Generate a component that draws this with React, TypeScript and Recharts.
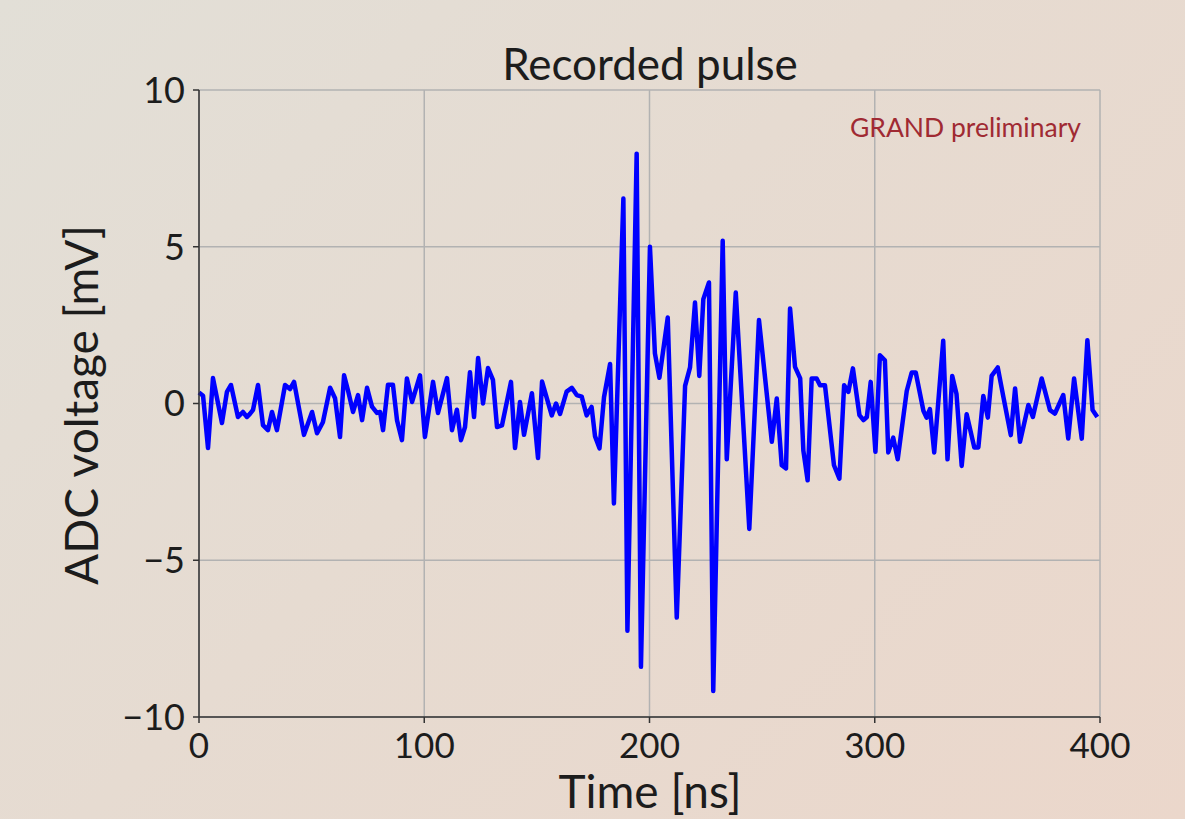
import { LineChart, Line, XAxis, YAxis, CartesianGrid } from "recharts";

// pulse trace (time in ns, ADC voltage in mV)
const timeNs = [
  0, 1.8, 4.0, 6.2, 10.2, 12.4, 14.2, 17.3, 19.5, 21.3, 22.6, 24.0, 26.2, 28.4, 30.6, 32.4, 34.6, 38.2, 40.4, 42.2, 46.6, 50.2,
  52.4, 55.0, 58.2, 60.4, 62.6, 64.4, 66.1, 68.4, 70.6, 72.4, 74.6, 76.8, 79.0, 80.4, 81.7, 83.9, 86.1, 87.9, 90.1, 92.3, 94.6, 98.1, 100.3,
  103.9, 106.1, 110.1, 112.3, 114.5, 116.3, 118.1, 120.3, 122.1, 123.9, 126.1, 128.3, 130.5, 132.3, 134.5, 138.5, 140.3, 142.5, 144.3, 147.8, 150.5, 152.3,
  156.6, 158.5, 160.3, 163.2, 165.5, 167.7, 169.9, 172.1, 174.3, 175.8, 177.8, 179.8, 182.5, 184.2, 188.4, 190.2, 194.3, 196.2, 200.2, 202.4, 204.4,
  208.1, 212.1, 215.8, 218.0, 220.2, 222.1, 223.9, 226.4, 228.3, 232.5, 234.3, 238.3, 244.3, 248.6, 254.3,
  256.5, 258.7, 260.6, 262.4, 264.6, 266.9, 268.3, 270.2, 272.0, 274.2, 275.7, 277.9, 281.9, 284.3, 286.4, 288.3, 290.3, 293.2, 295.0, 296.5, 298.2, 300.3, 302.3, 304.5,
  306.0, 308.2, 310.2, 314.2, 316.4, 318.2, 321.6, 323.0, 324.5, 326.4, 330.4, 332.3, 334.4, 336.3, 338.6, 340.8, 344.2, 346.0, 348.2, 350.2, 351.9, 354.6,
  357.1, 360.4, 362.3, 364.5, 368.2, 370.2, 374.1, 377.8, 380.0, 383.7, 385.9, 388.5, 391.9, 394.4, 396.7, 398.8,
];

const adcMv = [
  0.35, 0.25, -1.42, 0.81, -0.62, 0.37, 0.59, -0.43, -0.27, -0.43, -0.33, -0.2, 0.59, -0.69, -0.85, -0.27, -0.85, 0.59, 0.46, 0.69, -1.0, -0.27,
  -0.95, -0.6, 0.5, 0.17, -1.07, 0.9, 0.43, -0.27, 0.27, -0.53, 0.5, -0.1, -0.3, -0.27, -0.85, 0.6, 0.6, -0.53, -1.17, 0.8, 0.05, 0.9, -1.07,
  0.69, -0.3, 0.81, -0.85, -0.2, -1.17, -0.75, 1.0, -0.43, 1.45, 0.0, 1.13, 0.75, -0.75, -0.7, 0.69, -1.42, 0.05, -1.0, 0.33, -1.74, 0.7,
  -0.38, 0.0, -0.33, 0.38, 0.5, 0.27, 0.22, -0.38, -0.11, -1.04, -1.43, 0.2, 1.26, -3.19, 6.54, -7.25, 7.97, -8.4, 5.0, 1.6, 0.82,
  2.74, -6.83, 0.56, 1.15, 3.22, 0.88, 3.33, 3.86, -9.17, 5.19, -1.78, 3.54, -4.0, 2.66, -1.22,
  0.16, -1.97, -2.07, 3.03, 1.17, 0.8, -1.5, -2.45, 0.8, 0.8, 0.58, 0.58, -1.97, -2.4, 0.58, 0.37, 1.12, -0.37, -0.53, -0.43, 0.69, -1.54, 1.54, 1.38,
  -1.56, -1.09, -1.78, 0.4, 0.99, 0.99, -0.23, -0.45, -0.18, -1.56, 2.0, -1.78, 0.88, 0.3, -1.99, -0.34, -1.4, -1.4, 0.24, -0.45, 0.88, 1.15,
  0.21, -1.01, 0.48, -1.22, -0.05, -0.43, 0.8, -0.21, -0.32, 0.27, -1.12, 0.8, -1.12, 2.02, -0.21, -0.43,
];

const xTicks = [0, 100, 200, 300, 400];
const yTicks = [-10, -5, 0, 5, 10];

const W = 1185;
const H = 819;
const FONT = "Lato, 'Liberation Sans', sans-serif";
const INK = "#1c1c1c";

const fmtTick = (v: number) => (v < 0 ? `\u2212${Math.abs(v)}` : `${v}`);

export default function App() {
  const data = timeNs.map((t, i) => ({ t, v: adcMv[i] }));

  return (
    <div
      style={{
        position: "fixed",
        left: 0,
        top: 0,
        width: W,
        height: H,
        overflow: "hidden",
        fontFamily: FONT,
        background: "linear-gradient(135deg, #e2dfd7 0%, #e6dbd1 45%, #ebd7cb 100%)",
      }}
    >
      <LineChart
        width={W}
        height={H}
        data={data}
        margin={{ top: 90, right: 85, bottom: 42, left: 0 }}
      >
        <CartesianGrid stroke="#b2b2b2" strokeWidth={1.5} />
        <XAxis
          dataKey="t"
          type="number"
          domain={[0, 400]}
          ticks={xTicks}
          height={60}
          tickSize={6}
          tickMargin={10}
          tickFormatter={fmtTick}
          tick={{ fill: INK, fontSize: 35, fontFamily: FONT }}
          axisLine={{ stroke: "#333", strokeWidth: 1.5 }}
          tickLine={{ stroke: "#333", strokeWidth: 1.5 }}
        />
        <XAxis
          xAxisId="top"
          orientation="top"
          dataKey="t"
          type="number"
          domain={[0, 400]}
          height={0}
          tick={false}
          tickLine={false}
          axisLine={{ stroke: "#333", strokeWidth: 1.5 }}
        />
        <YAxis
          type="number"
          domain={[-10, 10]}
          ticks={yTicks}
          width={199}
          tickSize={6}
          tickMargin={8}
          tickFormatter={fmtTick}
          tick={{ fill: INK, fontSize: 36, fontFamily: FONT }}
          axisLine={{ stroke: "#333", strokeWidth: 1.5 }}
          tickLine={{ stroke: "#333", strokeWidth: 1.5 }}
        />
        <YAxis
          yAxisId="right"
          orientation="right"
          type="number"
          domain={[-10, 10]}
          width={0}
          tick={false}
          tickLine={false}
          axisLine={{ stroke: "#333", strokeWidth: 1.5 }}
        />
        <Line
          type="linear"
          dataKey="v"
          stroke="#0000ff"
          strokeWidth={4.5}
          strokeLinejoin="round"
          dot={false}
          isAnimationActive={false}
        />
      </LineChart>

      <div
        style={{
          position: "absolute",
          left: 450,
          width: 400,
          top: 38,
          textAlign: "center",
          fontSize: 44,
          lineHeight: "50px",
          color: INK,
        }}
      >
        Recorded pulse
      </div>
      <div
        style={{
          position: "absolute",
          right: W - 1081,
          top: 111,
          fontSize: 26.5,
          lineHeight: "32px",
          color: "#a02a33",
        }}
      >
        GRAND preliminary
      </div>
      <div
        style={{
          position: "absolute",
          left: 450,
          width: 400,
          top: 766,
          textAlign: "center",
          fontSize: 46,
          lineHeight: "50px",
          color: INK,
        }}
      >
        Time [ns]
      </div>
      <div
        style={{
          position: "absolute",
          left: 81 - 250,
          width: 500,
          top: 405 - 25,
          textAlign: "center",
          fontSize: 46,
          lineHeight: "50px",
          color: INK,
          transform: "rotate(-90deg)",
        }}
      >
        ADC voltage [mV]
      </div>
    </div>
  );
}
